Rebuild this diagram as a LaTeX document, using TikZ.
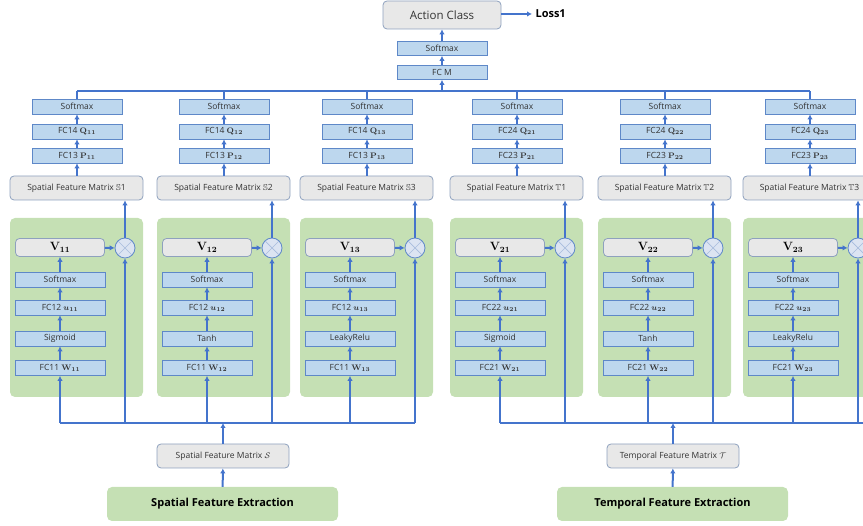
\documentclass[tikz,border=0pt]{standalone}
\usepackage{amssymb,amsmath}
\usepackage[no-math]{fontspec}
\setmainfont{Open Sans}
\usetikzlibrary{arrows.meta}

\definecolor{linkblue}{HTML}{4474CC}
\definecolor{blkfill}{HTML}{BDD7EE}
\definecolor{blkedge}{HTML}{5E88C8}
\definecolor{gryfill}{HTML}{E8E8E8}
\definecolor{gryedge}{HTML}{8EA1BE}
\definecolor{grnfill}{HTML}{C5E0B4}
\definecolor{mulfill}{HTML}{DCE4F2}
\definecolor{mulcross}{HTML}{A8BCDD}
\definecolor{txt}{HTML}{333333}

\tikzset{
  blk/.style={draw=blkedge, fill=blkfill, line width=0.8pt, minimum width=90pt,
    minimum height=15pt, inner sep=0pt, text=txt, font=\fontsize{8.5}{9}\selectfont},
  gbox/.style={draw=gryedge, fill=gryfill, line width=0.8pt, rounded corners=4pt,
    inner sep=0pt, text=txt, font=\fontsize{8.5}{9}\selectfont},
  gext/.style={fill=grnfill, rounded corners=5pt, minimum width=231pt, minimum height=34pt,
    inner sep=0pt, text=black, font=\fontsize{11}{12}\selectfont\bfseries},
  mulnode/.style={circle, draw=blkedge, fill=mulfill, line width=0.8pt,
    minimum size=20pt, inner sep=0pt},
  link/.style={draw=linkblue, line width=2pt, -{Latex[length=5pt,width=5.5pt]}},
  wire/.style={draw=linkblue, line width=2pt}
}

\begin{document}
\begin{tikzpicture}[x=1pt, y=-1pt]
\useasboundingbox (0,0) rectangle (863,526);
\clip (0,0) rectangle (863,526);

% top of the network
\node [gbox, minimum width=118pt, minimum height=28pt, font=\fontsize{11.5}{12}\selectfont] (act) at (442,15) {Action Class};
\node [text=black, font=\fontsize{11}{12}\selectfont\bfseries, anchor=west] (loss) at (532,14) {Loss1};
\node [blk, minimum height=14pt] (topsm) at (442,48.5) {Softmax};
\node [blk, minimum height=14pt] (fcm) at (442,72.5) {FC M};
\draw [link] (act.east |- loss) -- (loss);
\draw [link] (topsm) -- (act);
\draw [link] (fcm) -- (topsm);

% six branches
\foreach \i/\L/\g/\k/\act/\bb in {1/10/1/1/Sigmoid/S, 2/157/1/2/Tanh/S, 3/300/1/3/LeakyRelu/S,
    4/450/2/1/Sigmoid/T, 5/598/2/2/Tanh/T, 6/743/2/3/LeakyRelu/T} {
  \fill [grnfill, rounded corners=5pt] (\L,218) rectangle ++(133,179);
  \node [blk] (w\i) at ({\L+50},368) {FC\g1 $\mathbf{W}_{\mathbf{\g\k}}$};
  \node [blk] (a\i) at ({\L+50},338.5) {\act};
  \node [blk] (u\i) at ({\L+50},307.5) {FC\g2 $\boldsymbol{u}_{\mathbf{\g\k}}$};
  \node [blk] (s\i) at ({\L+50},279.5) {Softmax};
  \node [gbox, minimum width=89pt, minimum height=18pt, text=black,
    font=\fontsize{11.5}{12}\selectfont] (v\i) at ({\L+50},247.5) {$\mathbf{V}_{\mathbf{\g\k}}$};
  \node [mulnode] (m\i) at ({\L+115},248) {};
  \draw [mulcross, line width=0.7pt] (m\i.45) -- (m\i.225) (m\i.135) -- (m\i.-45);
  \node [gbox, minimum width=133pt, minimum height=24pt] (f\i) at ({\L+66.5},188) {Spatial Feature Matrix $\mathbb{\bb}$\k};
  \node [blk] (p\i) at ({\L+67},155.5) {FC\g3 $\mathbf{P}_{\mathbf{\g\k}}$};
  \node [blk] (q\i) at ({\L+67},131.5) {FC\g4 $\mathbf{Q}_{\mathbf{\g\k}}$};
  \node [blk] (t\i) at ({\L+67},106.5) {Softmax};
  \coordinate (bl\i) at ({\L+50},423);
  \coordinate (br\i) at ({\L+115},423);
  \coordinate (tb\i) at ({\L+67},91);
  \draw [link] (bl\i) -- (w\i);
  \draw [link] (w\i) -- (a\i);
  \draw [link] (a\i) -- (u\i);
  \draw [link] (u\i) -- (s\i);
  \draw [link] (s\i) -- (v\i);
  \draw [link] (v\i) -- (m\i);
  \draw [link] (br\i) -- (m\i);
  \draw [link] (m\i) -- (m\i |- f\i.south);
  \draw [link] (p\i |- f\i.north) -- (p\i);
  \draw [link] (p\i) -- (q\i);
  \draw [link] (q\i) -- (t\i);
  \draw [wire] (t\i) -- (tb\i);
}

% buses
\coordinate (tend) at (870,423);
\draw [wire] (bl1) -- (br3);
\draw [wire] (bl4) -- (tend);
\draw [wire] (tb1) -- (tb6);
\draw [link] (fcm |- tb1) -- (fcm);

% feature extraction
\node [gbox, minimum width=132pt, minimum height=24pt] (sfs) at (223,456) {Spatial Feature Matrix $\mathcal{S}$};
\node [gext] (sfe) at (222.5,504) {Spatial Feature Extraction};
\node [gbox, minimum width=132pt, minimum height=24pt] (tft) at (673,456) {Temporal Feature Matrix $\mathcal{T}$};
\node [gext] (tfe) at (672.5,504) {Temporal Feature Extraction};
\draw [link] (sfe) -- (sfs);
\draw [link] (sfs) -- (sfs |- bl1);
\draw [link] (tfe) -- (tft);
\draw [link] (tft) -- (tft |- bl4);
\end{tikzpicture}
\end{document}
